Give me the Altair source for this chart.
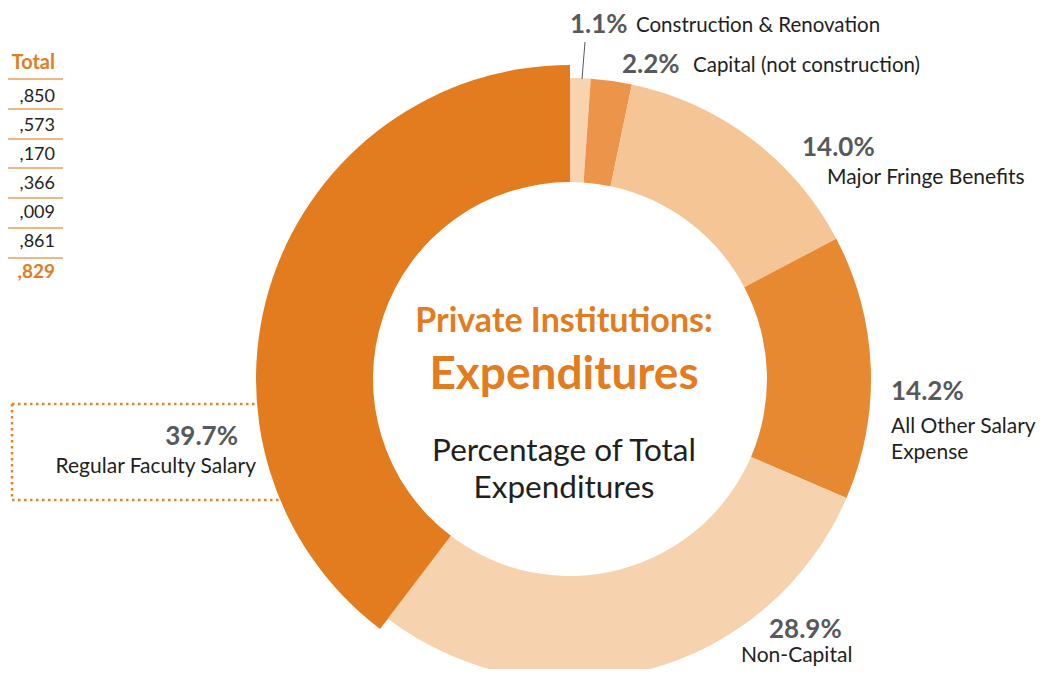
import altair as alt
import pandas as pd

# ---- data ----
categories = ["Construction & Renovation", "Capital (not construction)", "Major Fringe Benefits",
              "All Other Salary Expense", "Non-Capital", "Regular Faculty Salary"]
values = [1.1, 2.2, 14.0, 14.2, 28.9, 39.7]
slice_colors = ["#F7D3B0", "#EB944A", "#F5C596", "#E68930", "#F7D2AF", "#E27C1E"]
outer_radius = [301, 301, 301, 301, 301, 314]

table_header = "Total"
table_rows = [",850", ",573", ",170", ",366", ",009", ",861"]
table_total = ",829"

ORANGE = "#E27C1E"
GREY = "#58595B"
DARK = "#231F20"
FONT = "Lato"

W, H = 1028, 661
CX, CY = 562, 371

df = pd.DataFrame({"cat": categories, "val": values, "order": list(range(len(values))),
                   "outer": outer_radius})

def txt(s, x, y, size, color=DARK, weight="normal", align="left", font=FONT):
    return alt.Chart(pd.DataFrame({"t": [s]})).mark_text(
        align=align, baseline="middle", fontSize=size, fontWeight=weight, color=color, font=font
    ).encode(x=alt.value(x), y=alt.value(y), text="t:N")

def rule(x1, x2, y1, y2, color, width=1.5, dash=None):
    kw = dict(color=color, strokeWidth=width)
    if dash:
        kw["strokeDash"] = dash
    return alt.Chart(pd.DataFrame({"a": [0]})).mark_rule(**kw).encode(
        x=alt.value(x1), x2=alt.value(x2), y=alt.value(y1), y2=alt.value(y2))

layers = []

# dotted box behind the faculty label
DOT = [2.5, 3.5]
layers.append(rule(4, 260, 396, 396, "#E8822A", 2.5, DOT))
layers.append(rule(4, 290, 492, 492, "#E8822A", 2.5, DOT))
layers.append(rule(4, 4, 396, 492, "#E8822A", 2.5, DOT))

# donut: angles computed from cumulative sums of the values
arc = alt.Chart(df).transform_joinaggregate(
    total="sum(val)"
).transform_window(
    cum="sum(val)", sort=[alt.SortField("order")], frame=[None, 0]
).transform_calculate(
    a0="(datum.cum - datum.val) / datum.total * 2 * PI",
    a1="datum.cum / datum.total * 2 * PI",
).mark_arc(innerRadius=197, stroke=None).encode(
    theta=alt.Theta("a0:Q", scale=None, stack=False),
    theta2="a1:Q",
    radius=alt.Radius("outer:Q", scale=None),
    color=alt.Color("cat:N", scale=alt.Scale(domain=categories, range=slice_colors), legend=None),
    x=alt.value(CX), y=alt.value(CY),
)
layers.append(arc)

# partial table at the left edge
TX = 47
layers.append(txt(table_header, TX, 55, 20, ORANGE, "bold", "right"))
line_ys = [71, 101, 131, 160, 190, 220, 250]
for ly in line_ys:
    layers.append(rule(0, TX + 8, ly, ly, "#E9A15E", 1.5))
row_ys = [88.7, 117.7, 147, 176, 205, 234]
for s, ry in zip(table_rows, row_ys):
    layers.append(txt(s, TX, ry, 18, DARK, "normal", "right"))
layers.append(txt(table_total, TX, 263.7, 19, ORANGE, "bold", "right"))

# centre titles
layers.append(txt("Private Institutions:", 556, 314, 34, ORANGE, "bold", "center"))
layers.append(txt("Expenditures", 556, 367, 46, ORANGE, "bold", "center"))
layers.append(txt("Percentage of Total", 556, 444, 31.5, DARK, "normal", "center"))
layers.append(txt("Expenditures", 556, 481, 31.5, DARK, "normal", "center"))

# slice labels
pct = [f"{v:.1f}%" for v in values]
NS = 21
PS = 26
layers.append(rule(574, 577, 71, 34, "#58595B", 1))
layers.append(txt(pct[0], 562, 17, PS, GREY, "bold"))
layers.append(txt("Construction & Renovation", 628, 18, 20.5))
layers.append(txt(pct[1], 614, 57, PS, GREY, "bold"))
layers.append(txt("Capital (not construction)", 685, 58, 20.5))
layers.append(txt(pct[2], 794, 140, PS, GREY, "bold"))
layers.append(txt("Major Fringe Benefits", 819, 170, NS))
layers.append(txt(pct[3], 883, 384, PS, GREY, "bold"))
layers.append(txt("All Other Salary", 883, 419, NS))
layers.append(txt("Expense", 883, 445, NS))
layers.append(txt(pct[4], 761, 622, PS, GREY, "bold"))
layers.append(txt("Non-Capital", 733, 648, NS))
layers.append(txt(pct[5], 230, 429, PS, GREY, "bold", "right"))
layers.append(txt("Regular Faculty Salary", 248, 459, NS, DARK, "normal", "right"))

chart = alt.layer(*layers).properties(
    width=W, height=H, padding=0,
    autosize=alt.AutoSizeParams(type="none"),
).configure_view(stroke=None)

chart.save("out.html", embed_options={"renderer": "svg", "actions": False})
